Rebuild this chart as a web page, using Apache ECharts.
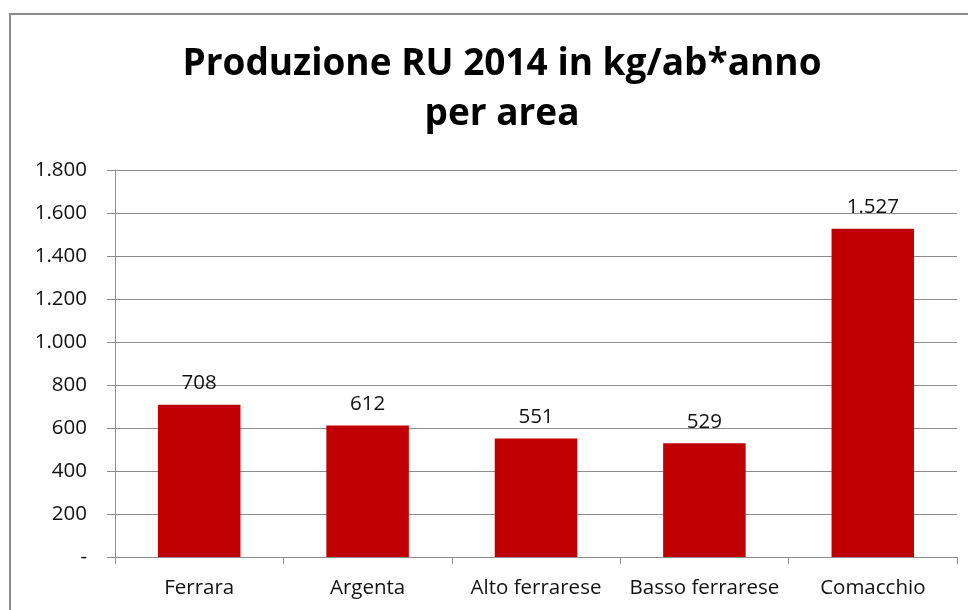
<!DOCTYPE html>
<html><head><meta charset="utf-8">
<script src="https://cdn.jsdelivr.net/npm/echarts@6/dist/echarts.min.js"></script>
<style>html,body{margin:0;padding:0;background:#fff}#c{width:968px;height:610px}</style>
</head><body><div id="c"></div>
<script>
const categories = ['Ferrara', 'Argenta', 'Alto ferrarese', 'Basso ferrarese', 'Comacchio'];
const values = [708, 612, 551, 529, 1527];
const titleLines = ['Produzione RU 2014 in kg/ab*anno', 'per area'];

function fmt(v) {
  if (v === 0) return '-';
  return String(Math.round(v)).replace(/\B(?=(\d{3})+(?!\d))/g, '.');
}
const font = '"Open Sans", "Liberation Sans", sans-serif';
const chart = echarts.init(document.getElementById('c'), null, {renderer: 'canvas'});
chart.setOption({
  animation: false,
  backgroundColor: '#fff',
  title: {
    text: titleLines.join('\n'),
    left: 497, top: 34, textAlign: 'center',
    textStyle: {fontFamily: font, fontWeight: 'bold', fontSize: 37, lineHeight: 50, color: '#000'}
  },
  graphic: [{
    type: 'rect', shape: {x: 10, y: 14, width: 1100, height: 800},
    style: {fill: 'none', stroke: '#8c8c8c', lineWidth: 2}, silent: true
  }],
  grid: {left: 115, right: 11, top: 170, bottom: 53, containLabel: false},
  xAxis: {
    type: 'category', data: categories,
    axisLine: {lineStyle: {color: '#8c8c8c', width: 1}},
    axisTick: {show: true, length: 7, alignWithLabel: false, lineStyle: {color: '#8c8c8c'}},
    axisLabel: {fontFamily: font, fontSize: 20.5, color: '#111', margin: 21, interval: 0}
  },
  yAxis: {
    type: 'value', min: 0, max: 1800, interval: 200,
    axisLine: {show: true, lineStyle: {color: '#8c8c8c', width: 1}},
    axisTick: {show: true, length: 8, lineStyle: {color: '#8c8c8c'}},
    axisLabel: {fontFamily: font, fontSize: 20.5, color: '#111', margin: 28, formatter: fmt},
    splitLine: {show: true, lineStyle: {color: '#8c8c8c', width: 1}}
  },
  series: [{
    type: 'bar', data: values, barWidth: '49%',
    itemStyle: {color: '#C00000'},
    label: {show: true, position: 'top', distance: 11, fontFamily: font, fontSize: 20.5, color: '#111', formatter: p => fmt(p.value)}
  }]
});
</script></body></html>
